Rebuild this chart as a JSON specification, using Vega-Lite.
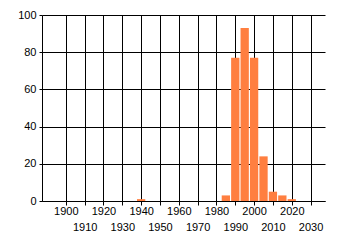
{
  "$schema": "https://vega.github.io/schema/vega-lite/v6.json",
  "width": 283,
  "height": 186,
  "autosize": {"type": "none"},
  "padding": {"left": 42, "top": 15, "right": 15, "bottom": 44},
  "background": "white",
  "config": {"view": {"stroke": null}, "font": "Liberation Sans"},
  "data": {"values": [
    {"year": 1940, "count": 1},
    {"year": 1985, "count": 3},
    {"year": 1990, "count": 77},
    {"year": 1995, "count": 93},
    {"year": 2000, "count": 77},
    {"year": 2005, "count": 24},
    {"year": 2010, "count": 5},
    {"year": 2015, "count": 3},
    {"year": 2020, "count": 1}
  ]},
  "mark": {"type": "bar", "size": 8.3, "color": "#ff7f40"},
  "encoding": {
    "x": {
      "field": "year", "type": "quantitative",
      "scale": {"domain": [1890, 2035], "nice": false, "zero": false},
      "axis": {
        "values": [1900, 1910, 1920, 1930, 1940, 1950, 1960, 1970, 1980, 1990, 2000, 2010, 2020, 2030],
        "format": "d",
        "title": null, "grid": true, "gridColor": "black", "gridOpacity": 1, "gridWidth": 1,
        "domainColor": "black", "tickColor": "black", "tickSize": 4,
        "labelFontSize": 11, "labelColor": "black", "labelOverlap": false, "labelFlush": false,
        "labelPadding": {"condition": {"test": "datum.value % 20 == 10", "value": 16}, "value": 0}
      }
    },
    "y": {
      "field": "count", "type": "quantitative",
      "scale": {"domain": [0, 100], "nice": false},
      "axis": {
        "values": [0, 20, 40, 60, 80, 100],
        "format": "d",
        "title": null, "grid": true, "gridColor": "black", "gridOpacity": 1, "gridWidth": 1,
        "domainColor": "black", "tickColor": "black", "tickSize": 3,
        "labelFontSize": 11, "labelColor": "black", "labelPadding": 3, "labelFlush": false
      }
    }
  }
}
